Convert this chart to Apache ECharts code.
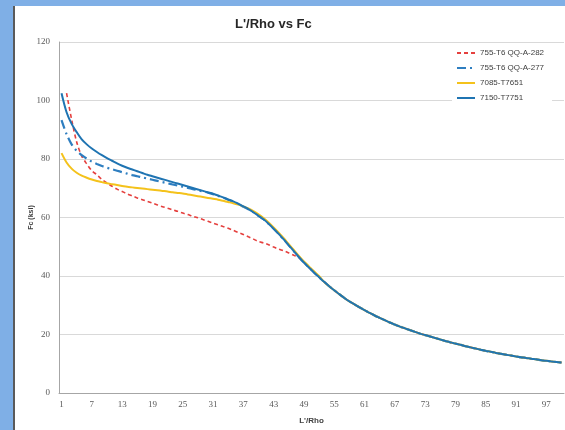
<!DOCTYPE html>
<html><head><meta charset="utf-8">
<script src="https://cdn.jsdelivr.net/npm/echarts@6/dist/echarts.min.js"></script>
<style>
html,body{margin:0;padding:0;width:565px;height:430px;background:#7FAFE6;overflow:hidden;}
#edge{position:absolute;left:13px;top:6px;width:2px;height:424px;background:#5a5a5a;}
#c{position:absolute;left:15px;top:6px;width:550px;height:424px;background:#fff;}
</style></head>
<body><div id="edge"></div><div id="c"></div>
<script>
// Categories: L'/Rho 1..100
const categories = Array.from({length:100},(_,i)=>String(i+1));
const seriesNames = ['755-T6 QQ-A-282','755-T6 QQ-A-277','7085-T7651','7150-T7751'];
// Shared Euler tail, L'/Rho 49..100
const tailAll = [44.6,42.9,41.2,39.6,38.0,36.5,35.1,33.8,32.5,31.3,30.3,29.3,
 28.3,27.4,26.5,25.7,24.9,24.1,23.4,22.7,22.1,21.5,
 20.9,20.3,19.8,19.3,18.8,18.3,17.8,17.3,16.9,16.5,
 16.0,15.6,15.2,14.8,14.4,14.1,13.7,13.4,13.1,12.8,
 12.5,12.2,12.0,11.7,11.5,11.2,11.0,10.8,10.6,10.4];
// 7150-T7751, L'/Rho 1..48
const head7150 = [102.5,96,92,89.2,86.7,85,83.6,82.4,81.3,80.3,
 79.4,78.5,77.7,77,76.4,75.8,75.2,74.6,74.1,73.6,
 73.1,72.6,72.1,71.6,71.1,70.6,70.1,69.6,69.1,68.6,
 68.1,67.5,66.9,66.2,65.5,64.7,63.8,62.9,61.8,60.6,
 59.4,57.9,56.2,54.4,52.5,50.5,48.5,46.5];
// 755-T6 QQ-A-277, L'/Rho 1..38
const head277 = [93.3,88.5,85,82.8,81.3,80.1,79.1,78.3,77.6,77,
 76.5,76,75.5,75,74.5,74.1,73.7,73.3,72.9,72.5,
 72.1,71.7,71.3,70.9,70.5,70.1,69.7,69.3,68.9,68.5,
 68,67.4,66.8,66.1,65.4,64.6,63.7,62.8];
// 7085-T7651, L'/Rho 1..52
const head7085 = [82,78.8,76.7,75.3,74.3,73.6,73,72.5,72.1,71.7,
 71.4,71.1,70.8,70.5,70.3,70.1,69.9,69.7,69.5,69.3,
 69.1,68.9,68.6,68.4,68.2,67.9,67.6,67.3,67,66.7,
 66.4,66.1,65.7,65.3,64.9,64.4,63.8,63.1,62.2,61.1,
 59.8,58.3,56.6,54.8,52.9,50.9,48.9,46.9,45,43.3,41.6,40];
// 755-T6 QQ-A-282, L'/Rho 1..48 (no value at 1)
const head282 = [null,102.5,93.5,85.8,81,78.3,76,74.6,73,71.8,
 70.7,69.7,68.9,68.1,67.4,66.7,66.1,65.5,64.9,64.3,
 63.7,63.2,62.6,62.1,61.5,61,60.4,59.9,59.3,58.7,
 58.1,57.5,56.9,56.3,55.6,54.9,54.2,53.4,52.6,51.8,
 51.3,50.7,49.9,49.2,48.6,47.9,47.1,46.3];

const s7150 = head7150.concat(tailAll);
const s277 = head277.concat(head7150.slice(38), tailAll);
const s7085 = head7085.concat(tailAll.slice(4));
const s282 = head282.concat(tailAll);

const chart = echarts.init(document.getElementById('c'), null, {renderer:'canvas'});
const lab = {color:'#595959', fontFamily:'Liberation Serif', fontSize:9};
chart.setOption({
  animation:false,
  backgroundColor:'#fff',
  title:{text:"L'/Rho vs Fc", left:215, top:7,
    textStyle:{fontFamily:'Liberation Sans', fontWeight:'bold', fontSize:13, color:'#262626'}},
  legend:{orient:'vertical', left:437, top:39, itemWidth:18, itemHeight:8, itemGap:7,
    backgroundColor:'#fff', padding:[4,8,4,4],
    itemStyle:{opacity:0},
    textStyle:{fontFamily:'Liberation Sans', fontSize:8, color:'#404040'},
    data:seriesNames},
  grid:{left:44, right:1, top:36, bottom:35, containLabel:false},
  xAxis:{type:'category', data:categories, boundaryGap:true,
    name:"L'/Rho", nameLocation:'middle', nameGap:24, nameMoveOverlap:false,
    nameTextStyle:{fontFamily:'Liberation Sans', fontWeight:'bold', fontSize:8, color:'#404040'},
    axisLine:{lineStyle:{color:'#a6a6a6'}}, axisTick:{show:false},
    axisLabel:Object.assign({interval:5, margin:7}, lab), splitLine:{show:false}},
  yAxis:{type:'value', min:0, max:120, interval:20,
    name:'Fc (ksi)', nameLocation:'middle', nameGap:24, nameRotate:90, nameMoveOverlap:false,
    nameTextStyle:{fontFamily:'Liberation Sans', fontWeight:'bold', fontSize:7, color:'#404040'},
    axisLine:{show:true, lineStyle:{color:'#a6a6a6'}}, axisTick:{show:false},
    axisLabel:Object.assign({margin:9}, lab),
    splitLine:{lineStyle:{color:'#d9d9d9', width:1}}},
  series:[
    {name:seriesNames[0], type:'line', data:s282, symbol:'none', smooth:0.3,
      lineStyle:{color:'#E5403E', width:1.6, type:[4,3]}, itemStyle:{color:'#E5403E'}},
    {name:seriesNames[1], type:'line', data:s277, symbol:'none', smooth:0.3,
      lineStyle:{color:'#2E7EC0', width:2.2, type:[9,4,2,4]}, itemStyle:{color:'#2E7EC0'}},
    {name:seriesNames[2], type:'line', data:s7085, symbol:'none', smooth:0.3,
      lineStyle:{color:'#F4C21B', width:2}, itemStyle:{color:'#F4C21B'}},
    {name:seriesNames[3], type:'line', data:s7150, symbol:'none', smooth:0.3,
      lineStyle:{color:'#1F74B2', width:2}, itemStyle:{color:'#1F74B2'}}
  ]
});
</script></body></html>
